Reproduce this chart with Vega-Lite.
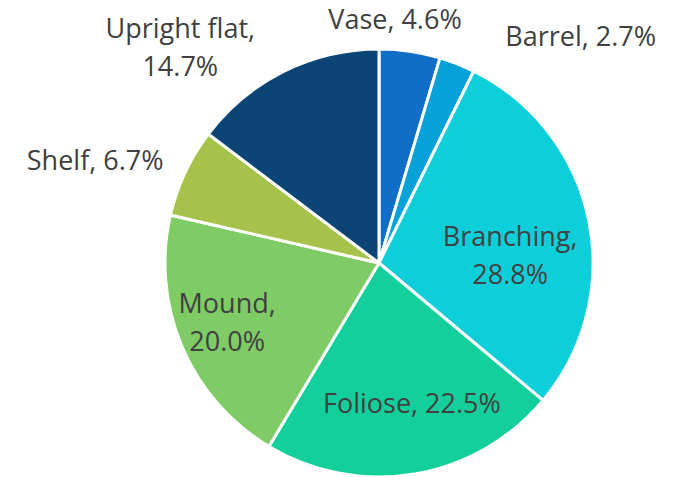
{
  "$schema": "https://vega.github.io/schema/vega-lite/v6.json",
  "width": 596,
  "height": 428,
  "autosize": {"type": "none"},
  "padding": {"left": 81, "top": 49, "right": 0, "bottom": 0},
  "background": "white",
  "config": {"view": {"stroke": null}},
  "data": {
    "values": [
      {"idx": 1, "name": "Vase", "value": 4.6, "label": "Vase, 4.6%"},
      {"idx": 2, "name": "Barrel", "value": 2.7, "label": "Barrel, 2.7%"},
      {"idx": 3, "name": "Branching", "value": 28.8, "label": "Branching,\n28.8%"},
      {"idx": 4, "name": "Foliose", "value": 22.5, "label": "Foliose, 22.5%"},
      {"idx": 5, "name": "Mound", "value": 20.0, "label": "Mound,\n20.0%"},
      {"idx": 6, "name": "Shelf", "value": 6.7, "label": "Shelf, 6.7%"},
      {"idx": 7, "name": "Upright flat", "value": 14.7, "label": "Upright flat,\n14.7%"}
    ]
  },
  "encoding": {
    "theta": {"field": "value", "type": "quantitative", "stack": true},
    "order": {"field": "idx", "type": "quantitative"}
  },
  "layer": [
    {
      "mark": {"type": "arc", "outerRadius": 214, "stroke": "white", "strokeWidth": 3},
      "encoding": {
        "color": {
          "field": "name",
          "type": "nominal",
          "legend": null,
          "scale": {
            "domain": ["Vase", "Barrel", "Branching", "Foliose", "Mound", "Shelf", "Upright flat"],
            "range": ["#106EC7", "#05A1D9", "#0DCFDA", "#12CF9C", "#7FCC67", "#A7C24B", "#0B4475"]
          }
        }
      }
    },
    {
      "mark": {"type": "text", "font": "Open Sans", "fontSize": 27, "fill": "#404040", "align": "center", "baseline": "middle", "lineBreak": "\n", "lineHeight": 38, "dx": -19, "dy": -2},
      "encoding": {"radius": {"value": 243}, "text": {"condition": {"test": "datum.name === 'Vase'", "field": "label"}, "value": ""}}
    },
    {
      "mark": {"type": "text", "font": "Open Sans", "fontSize": 27, "fill": "#404040", "align": "center", "baseline": "middle", "lineBreak": "\n", "lineHeight": 38, "dx": 114, "dy": -2},
      "encoding": {"radius": {"value": 240}, "text": {"condition": {"test": "datum.name === 'Barrel'", "field": "label"}, "value": ""}}
    },
    {
      "mark": {"type": "text", "font": "Open Sans", "fontSize": 27, "fill": "#404040", "align": "center", "baseline": "middle", "lineBreak": "\n", "lineHeight": 38, "dx": 0, "dy": 3},
      "encoding": {"radius": {"value": 134}, "text": {"condition": {"test": "datum.name === 'Branching'", "field": "label"}, "value": ""}}
    },
    {
      "mark": {"type": "text", "font": "Open Sans", "fontSize": 27, "fill": "#404040", "align": "center", "baseline": "middle", "lineBreak": "\n", "lineHeight": 38, "dx": 9, "dy": 0},
      "encoding": {"radius": {"value": 144}, "text": {"condition": {"test": "datum.name === 'Foliose'", "field": "label"}, "value": ""}}
    },
    {
      "mark": {"type": "text", "font": "Open Sans", "fontSize": 27, "fill": "#404040", "align": "center", "baseline": "middle", "lineBreak": "\n", "lineHeight": 38, "dx": 0, "dy": -23},
      "encoding": {"radius": {"value": 165}, "text": {"condition": {"test": "datum.name === 'Mound'", "field": "label"}, "value": ""}}
    },
    {
      "mark": {"type": "text", "font": "Open Sans", "fontSize": 27, "fill": "#404040", "align": "center", "baseline": "middle", "lineBreak": "\n", "lineHeight": 38, "dx": -12, "dy": 26},
      "encoding": {"radius": {"value": 300}, "text": {"condition": {"test": "datum.name === 'Shelf'", "field": "label"}, "value": ""}}
    },
    {
      "mark": {"type": "text", "font": "Open Sans", "fontSize": 27, "fill": "#404040", "align": "center", "baseline": "middle", "lineBreak": "\n", "lineHeight": 38, "dx": -94, "dy": -23},
      "encoding": {"radius": {"value": 235}, "text": {"condition": {"test": "datum.name === 'Upright flat'", "field": "label"}, "value": ""}}
    }
  ]
}
